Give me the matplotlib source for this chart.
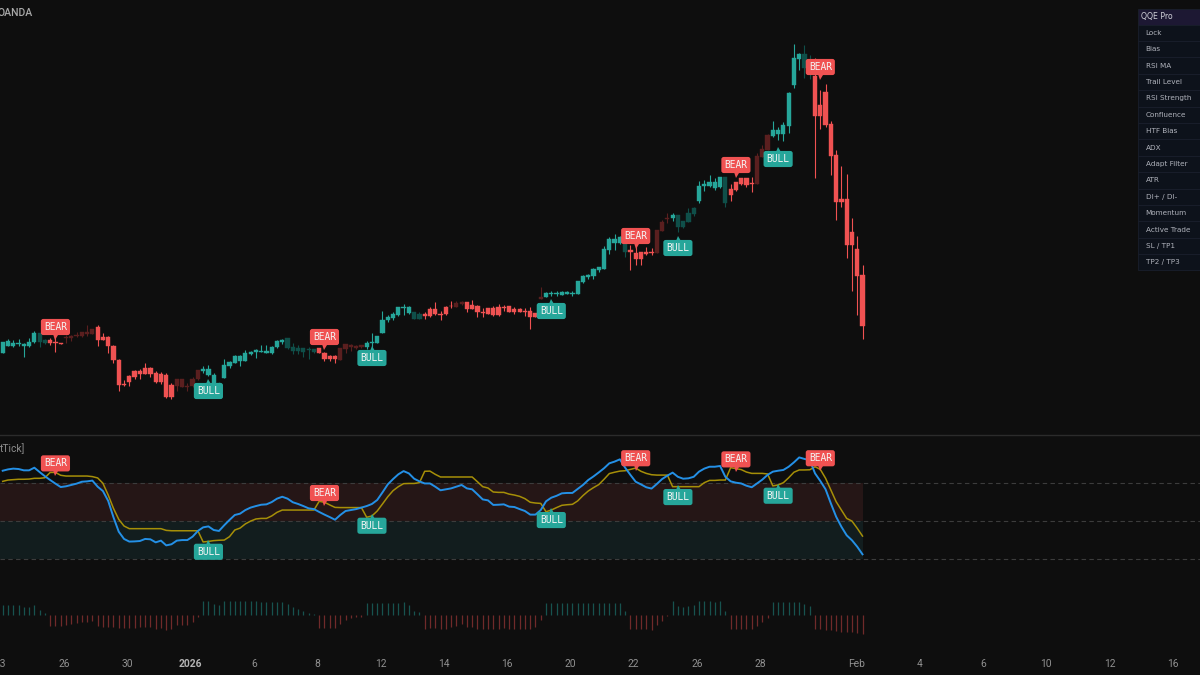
import matplotlib
matplotlib.use('Agg')
import matplotlib.pyplot as plt
from matplotlib.lines import Line2D
from matplotlib.patches import Rectangle

# candles. no price scale is visible so prices are in chart units
open_ = [77, 84.3, 84, 85.7, 83.7, 83.7, 87.7, 87.7, 86.7, 90,
         88.3, 86.7, 93.3, 94.3, 94.7, 98.3, 98.3, 100.7, 103, 93,
         93.3, 84.3, 70.3, 46.3, 54, 59, 59, 62, 62, 57,
         55.7, 55.3, 44.7, 50.7, 51, 44.3, 50.7, 59.7, 58.7, 54.7,
         46.7, 44, 52.3, 64, 67.3, 69, 69, 76, 78, 78,
         77.3, 77, 82.7, 87.7, 81.7, 78.7, 78.7, 78.3, 80, 77.7,
         81.7, 77.3, 74, 73.7, 81.7, 85.7, 85, 84.3, 84.7, 82.7,
         87, 87, 96.7, 109.7, 112, 114.7, 122.3, 117.3, 111.3, 111.3,
         116.3, 121.3, 121.3, 116, 123.3, 124.3, 127, 128, 127.7, 125.3,
         124.3, 117.7, 122, 122, 122.7, 123, 123.7, 121, 121, 118.7,
         118.7, 117.3, 133.3, 133, 136.3, 136.3, 135.3, 136.3, 136, 136.3,
         148, 153.3, 154, 159.7, 161, 180, 186.7, 186.7, 177.7, 180,
         176.7, 177.7, 178, 177.7, 200, 208, 212, 212, 202.7, 202.7,
         208.3, 215.7, 228.7, 244.3, 244.3, 242.3, 242.7, 227.3, 241, 247.7,
         251.7, 251.7, 247, 274, 280.7, 295.3, 294.3, 296, 296, 304.3,
         345, 371, 362.3, 361.7, 354.3, 325, 337.7, 306, 274.7, 230.7,
         230.7, 197.7, 181, 155]
close_ = [88.3, 88.7, 87, 86.7, 85.7, 87.7, 96.7, 96.7, 90, 87,
          86.7, 86.3, 91.7, 92, 93.7, 94.3, 96, 96, 90, 90,
          83.7, 69.7, 45, 45, 48.3, 53, 56.3, 56.3, 56.3, 48.3,
          48.3, 33.3, 33.3, 44, 43.3, 42.7, 44, 50.7, 61.3, 61.3,
          55.3, 46.7, 65.3, 67.7, 74.3, 74.3, 77, 77.7, 79.7, 79.3,
          79.3, 83.3, 89, 90, 91.7, 82.7, 81.7, 81.7, 80.7, 80.7,
          77, 71, 70.7, 70.7, 70.3, 81.3, 82.7, 81.7, 82.7, 86.7,
          87.7, 94, 110.3, 113, 115.7, 123, 122.7, 122.7, 117.7, 116,
          114, 114, 115.7, 114.7, 115.7, 123.7, 123.3, 126.3, 121, 121.3,
          118.3, 117, 116.3, 114.7, 114.7, 122.3, 118, 118.3, 118.3, 118.3,
          113.3, 113.3, 131.3, 137, 137, 137, 138.3, 138.3, 136.7, 149,
          154, 155.3, 161, 162.7, 181.3, 191, 191, 193.3, 193.3, 178,
          170.7, 170.7, 176, 176.7, 177, 199.3, 211.3, 215, 215, 209,
          216.7, 222, 244.3, 245.7, 247.7, 247.7, 252.7, 252.7, 234.7, 240,
          246.3, 245, 246, 246, 273.3, 280, 300.3, 300.3, 305, 337.3,
          371.7, 375.7, 375.7, 363, 314.3, 314.3, 305, 274.3, 228.3, 228.3,
          184.7, 184.7, 154.3, 104.3]
high = [88.3, 90.7, 89.7, 90.7, 87.3, 91.7, 98.7, 96.7, 90.7, 91.7,
        96.7, 86.7, 94.7, 95, 97.7, 98.3, 104.7, 101.3, 104.7, 97.3,
        94, 85, 70.7, 50, 54.7, 60, 61, 66.7, 62.7, 59.3,
        57.7, 56.7, 47.3, 50.7, 51.3, 46.7, 52.7, 60, 64, 65.3,
        56.7, 48.3, 70.7, 69, 75, 75, 80, 78.7, 81, 85,
        84.7, 84, 89.7, 91, 91.7, 86.7, 85, 81.7, 83.3, 80.7,
        81.7, 78.3, 75, 74.7, 82, 86, 85.7, 84.7, 85, 89,
        96.7, 94.3, 118.7, 114.7, 117.7, 123.3, 126, 124, 118.3, 118.3,
        118.3, 123.3, 127.7, 118.7, 124, 129.3, 129.3, 129.3, 128.3, 130,
        125, 122, 122.3, 124.3, 125.7, 124.7, 124, 122.7, 122.3, 122.3,
        123.3, 117.3, 142.7, 138, 139, 139, 138.7, 139.3, 139, 149.3,
        154.7, 156, 162.3, 163.3, 184, 192.7, 196, 194, 194, 185,
        185, 178.3, 182.7, 182, 200, 210, 216.7, 216.7, 215, 209.3,
        222, 222.7, 249, 250, 255, 251.7, 253.3, 253.3, 246, 248.3,
        252.3, 252.3, 253.3, 276.7, 285, 296, 309, 303, 307.7, 337.7,
        386.3, 376.7, 385, 375, 372.3, 340, 346.3, 309, 280, 264.3,
        255.7, 211.7, 194.3, 165]
low = [77, 84.3, 82.7, 84.3, 72.7, 83.3, 87.3, 82.7, 86, 85.3,
       77.7, 86.3, 87.3, 89.3, 93, 92.7, 94, 95.7, 84.3, 90,
       77, 67, 39, 44, 44, 50.7, 51.3, 55.7, 53.3, 47.3,
       45.7, 31.7, 31.3, 39.3, 42.7, 39.3, 43.3, 50, 57.3, 54.3,
       46.7, 41.7, 52, 62.3, 66.7, 64, 68.7, 74.7, 72, 77.7,
       77.3, 76, 82, 86.3, 81.3, 76, 76.3, 72.7, 71.3, 77.3,
       76.7, 68.7, 69.3, 67.3, 70.3, 77, 79.3, 80.7, 82, 80.7,
       80.7, 86.7, 96.7, 107.7, 110.3, 114, 114.7, 116, 111, 111,
       111.3, 113, 114.7, 110.3, 115.3, 122, 122.7, 124.7, 118.3, 120.7,
       113.3, 113, 116, 114, 114.3, 119, 117.7, 116, 117.7, 114.3,
       101.3, 113.3, 131, 132.7, 134.3, 134.3, 135, 136, 134, 136,
       147.3, 150.7, 151, 158, 160.7, 176, 180, 186, 173, 160,
       164.7, 164.7, 175, 174.7, 177, 199, 206.7, 209, 198.3, 201.7,
       208, 214, 226.7, 239.3, 243.3, 240, 241.7, 223.3, 228.7, 238.7,
       245, 243.3, 238, 246, 272.7, 280, 293.3, 289.7, 289, 297.3,
       341.7, 360.3, 352.3, 351, 251.7, 301, 303.3, 255, 210, 223,
       172.3, 139.3, 115, 91]
# bars the indicator paints in the faded tone
faded_bars = [7, 8, 12, 13, 14, 15, 16, 17, 33, 34, 35, 36, 37, 41, 54, 55, 56, 57, 58, 59,
              64, 65, 66, 67, 68, 78, 79, 86, 87, 102, 118, 124, 125, 126, 128, 129, 130, 131,
              137, 143, 144, 145, 152, 153]

# rsi pane
rsi_ma = [76.2, 76.9, 77.3, 77.1, 76.4, 76.4, 77.8, 75.5, 73.3, 71.3,
          69.4, 67.6, 68, 68.7, 69.4, 70.4, 70.6, 71, 67.8, 65.5,
          60.3, 51.7, 44.1, 40.3, 38.9, 39, 39.2, 40.3, 40.1, 38.5,
          39.4, 36.9, 37.5, 39.4, 39.7, 39.7, 41.5, 44.5, 46.4, 46.9,
          45, 44.5, 47.5, 50.3, 52.9, 53.6, 55.5, 56.8, 57.6, 58.3,
          58.5, 59.7, 61.5, 62.5, 61.5, 59.6, 58.7, 57.6, 56.4, 56,
          54.5, 53.1, 51.8, 50.4, 52.9, 55, 55.5, 56, 56.8, 57.6,
          58.7, 60.8, 64.8, 69, 71.8, 74.3, 76, 74.8, 72, 70.6,
          69.5, 69.5, 67.8, 65.9, 66.4, 66.9, 67.8, 68.7, 66.9, 66.4,
          63.8, 61.1, 60.6, 58.2, 58.3, 58.5, 57.3, 57.1, 56, 55,
          53.1, 53.1, 55.5, 60.1, 62, 63, 64.3, 64.5, 64.5, 66.6,
          68.7, 71.3, 73.2, 75.3, 77.5, 80.1, 81, 82.2, 77.8, 74,
          70.4, 69, 67.5, 66.8, 69.2, 71.8, 73.6, 75.2, 73, 72,
          72.2, 73, 75.7, 77.3, 78.3, 78.3, 78.7, 73, 70.6, 69.9,
          69.5, 68.3, 67.5, 69.5, 71.5, 74, 75.7, 76.2, 76.6, 78.3,
          80.6, 83.2, 82.4, 81.8, 74.8, 70.8, 66.4, 59, 52, 46.7,
          42.2, 39.6, 36.2, 32.2]
trail = [70.6, 71.3, 71.5, 71.7, 71.7, 71.8, 72.2, 72.2, 72.5, 75.3,
         75.3, 73.8, 73.4, 73.4, 73.4, 73.4, 73.4, 73.1, 72.4, 69.6,
         63.4, 56.4, 50.6, 47.1, 45.7, 45.7, 45.7, 45.7, 45.7, 45.7,
         45.7, 44.8, 44.6, 44.6, 44.6, 44.6, 44.6, 44.6, 38.7, 39,
         39.4, 39.6, 39.7, 41.5, 45, 46, 48.2, 49.7, 50.8, 51.1,
         51.1, 52.4, 54.3, 55.5, 55.5, 55.5, 55.5, 55.5, 55.5, 55.5,
         60.1, 59.6, 58.2, 56.9, 56.8, 56.8, 56.8, 56.8, 56.8, 51.7,
         52.4, 55, 58.7, 62.5, 65.7, 67.8, 69.4, 69.5, 69.5, 69.9,
         75.9, 76, 74.3, 72.9, 72.9, 72.9, 72.9, 72.9, 72.9, 72.9,
         70.4, 67.8, 67.1, 65, 64.8, 64.8, 63.9, 63.4, 62.7, 61.5,
         59.6, 59.2, 59, 54.6, 55.5, 56.8, 58, 58.3, 58.5, 60.3,
         63.1, 65.5, 67.3, 68.9, 71.7, 74.7, 75.4, 76, 76.2, 76.9,
         77.6, 75.9, 74.8, 74.1, 73.9, 73.9, 73.9, 67.8, 67.8, 67.8,
         67.8, 67.8, 67.8, 69.9, 71.1, 71.1, 71.3, 71.3, 77.8, 77.3,
         76.8, 75.5, 74.8, 74.8, 74.8, 74.5, 68.2, 68.7, 69.9, 72.5,
         75.4, 76.6, 76.6, 76.7, 78.3, 76.9, 72.2, 66, 59.9, 55.5,
         51.1, 49.7, 45.9, 41.8]
levels = [30, 50, 70]

# histogram pane
hist = [10, 10, 10, 10, 8.3, 8.3, 10, 5, 2.3, -11.3,
        -11.3, -11.3, -10.3, -9.3, -8, -6.7, -6.7, -6, -11.3, -12,
        -12, -12, -12.7, -12.7, -12.7, -12.7, -12, -11.7, -11.7, -14,
        -12.7, -15.3, -13.7, -10.3, -10.3, -10.3, -7.3, -1.7, 14.3, 14.3,
        11.3, 10, 14.3, 14.3, 14.3, 14.3, 14.3, 14.3, 14, 13.3,
        13.3, 13.3, 13.3, 13.3, 10.7, 7.7, 6, 3.7, 2.3, 1,
        -13, -13, -13, -13, -8.7, -4.7, -3, -2.3, -1.7, 12,
        12, 12, 12, 12, 12, 12, 12.7, 10.3, 4.3, 3.3,
        -13.7, -13, -13, -13.7, -13.7, -12.3, -10.7, -8.7, -12, -12,
        -13.7, -13.7, -13.7, -13.7, -13.7, -13, -13.7, -13.7, -13.7, -13.7,
        -13.7, -12, -5.3, 12, 12, 12, 12, 12, 12, 12,
        12, 12, 12, 12, 12, 12, 12, 12, 3.7, -13.7,
        -13.7, -13.7, -13.7, -14.7, -10, -5.7, -1.3, 14, 9.3, 7.7,
        8.7, 10, 14, 14, 14, 13.3, 14, 3.7, -14, -14,
        -14, -14, -14, -11.3, -7.3, -3.3, 13.3, 13.3, 13.3, 13.3,
        13.3, 13.3, 11, 9.3, -14.3, -14.3, -14.7, -15.3, -16.3, -16.7,
        -17, -17, -18.3, -19.3]

# signals: bar number, value the pointer sits on
price_bear = [(10, 93), (61, 83), (120, 184), (139, 255), (155, 353)]
price_bull = [(39, 49), (70, 82), (104, 129), (128, 192), (147, 281)]
rsi_bear = [(10, 74.8), (61, 59.2), (120, 77.5), (139, 76.9), (155, 77.5)]
rsi_bull = [(39, 38.8), (70, 52.5), (104, 55.5), (128, 67.6), (147, 68.3)]

tick_bars = [-0.4, 11.6, 23.6, 35.6, 47.6, 59.6, 71.6, 83.6, 95.6, 107.6, 119.6, 131.6, 143.6,
             161.8, 173.8, 185.8, 197.8, 209.8, 221.8]
tick_labels = ['23', '26', '30', '2026', '6', '8', '12', '14', '16', '20', '22', '26', '28',
               'Feb', '4', '6', '10', '12', '16']
table_rows = ['Lock', 'Bias', 'RSI MA', 'Trail Level', 'RSI Strength', 'Confluence', 'HTF Bias', 'ADX',
              'Adapt Filter', 'ATR', 'DI+ / DI-', 'Momentum', 'Active Trade', 'SL / TP1', 'TP2 / TP3']

BG = '#0e0e0e'
UP = '#26a69a'
DOWN = '#f05252'
UP_DIM = '#0f4f49'
DOWN_DIM = '#5a1f1f'
W = 1200
H = 675


def pane(top, bottom):
    ax = fig.add_axes([0, 1 - bottom / H, 1, (bottom - top) / H])
    ax.set_xlim(-0.512, 226.98)
    ax.patch.set_alpha(0)
    for s in ax.spines.values():
        s.set_visible(False)
    ax.set_xticks([])
    ax.set_yticks([])
    return ax


def signal(ax, i, val, text):
    bear = text == 'BEAR'
    col = DOWN if bear else UP
    ax.plot([i], [val], marker='v' if bear else '^', ms=3.6, color=col, mew=0, zorder=6, clip_on=False)
    ax.annotate(text, (i, val), xytext=(0, 10 if bear else -10), textcoords='offset pixels',
                ha='center', va='center', color='#f4f4f4', fontsize=6.9, family='DejaVu Sans Mono',
                zorder=7, annotation_clip=False,
                bbox=dict(boxstyle='round,pad=0.32,rounding_size=0.25', fc=col, ec='none'))


fig = plt.figure(figsize=(12, 6.75), dpi=100, facecolor=BG)
bars = range(len(close_))

# price pane
ax = pane(0, 434)
ax.set_ylim(-4, 430)
colors = []
for i in bars:
    if close_[i] >= open_[i]:
        colors.append(UP_DIM if i in faded_bars else UP)
    else:
        colors.append(DOWN_DIM if i in faded_bars else DOWN)
ax.vlines(bars, low, high, colors=colors, lw=0.8, zorder=2)
ax.bar(bars, [c - o for o, c in zip(open_, close_)], bottom=open_, width=0.8, color=colors,
       edgecolor=colors, lw=0.3, zorder=3)
for i, v in price_bear:
    signal(ax, i, v, 'BEAR')
for i, v in price_bull:
    signal(ax, i, v, 'BULL')

# rsi pane, 1.9 px per point
ax2 = pane(435, 584)
ax2.set_ylim(16.58, 95)
ax2.fill_between([-0.512, 163], levels[1], levels[2], color='#251616', lw=0, zorder=1)
ax2.fill_between([-0.512, 163], levels[0], levels[1], color='#121d1e', lw=0, zorder=1)
for lv in levels:
    ax2.axhline(lv, color='#3c3c3c', lw=0.8, ls=(0, (4, 3)), zorder=2)
ax2.plot(bars, trail, color='#a68f08', lw=1.1, zorder=3)
ax2.plot(bars, rsi_ma, color='#2490e6', lw=1.4, zorder=4)
for i, v in rsi_bear:
    signal(ax2, i, v, 'BEAR')
for i, v in rsi_bull:
    signal(ax2, i, v, 'BULL')

# histogram pane and time axis
ax3 = pane(585, 645)
ax3.set_ylim(-30, 30)
ax3.vlines(bars, 0, hist, colors=['#17534f' if v > 0 else '#702a2a' for v in hist], lw=0.9)
ax3.set_xticks(tick_bars)
ax3.set_xticklabels(tick_labels, family='Roboto', fontsize=7.4, color='#919191')
ax3.tick_params(axis='x', length=0, pad=10)
for t in ax3.get_xticklabels():
    if t.get_text() == '2026':
        t.set_fontweight('bold')
        t.set_color('#b4b4b4')

fig.add_artist(Line2D([0, 1], [1 - 434.5 / H, 1 - 434.5 / H], color='#2b2b2b', lw=1))

# overlay in picture pixels for the legend strings and status table
top = fig.add_axes([0, 0, 1, 1], zorder=10)
top.set_xlim(0, W)
top.set_ylim(H, 0)
top.axis('off')
top.text(33, 13.5, 'OANDA', ha='right', va='center', color='#a8a8a8', family='Roboto', fontsize=7.6,
         fontweight='medium')
top.text(25, 448.5, 'tTick]', ha='right', va='center', color='#8c8c8c', family='Roboto', fontsize=7.4)

top.add_patch(Rectangle((1137.5, 8.5), 70, 16, fc='#1d1833', ec='#1a1f2c', lw=0.6))
top.text(1141, 16.5, 'QQE Pro', va='center', color='#d0d0d8', fontsize=5.6, family='DejaVu Sans')
for n, name in enumerate(table_rows):
    y = 24.5 + n * 16.4
    top.add_patch(Rectangle((1137.5, y), 70, 16.4, fc='#0d121b', ec='#1a1f2c', lw=0.6))
    top.text(1145.5, y + 8.2, name, va='center', color='#b0b3bc', fontsize=5.2, family='DejaVu Sans')

fig.savefig('out.png', dpi=100, facecolor=BG)
